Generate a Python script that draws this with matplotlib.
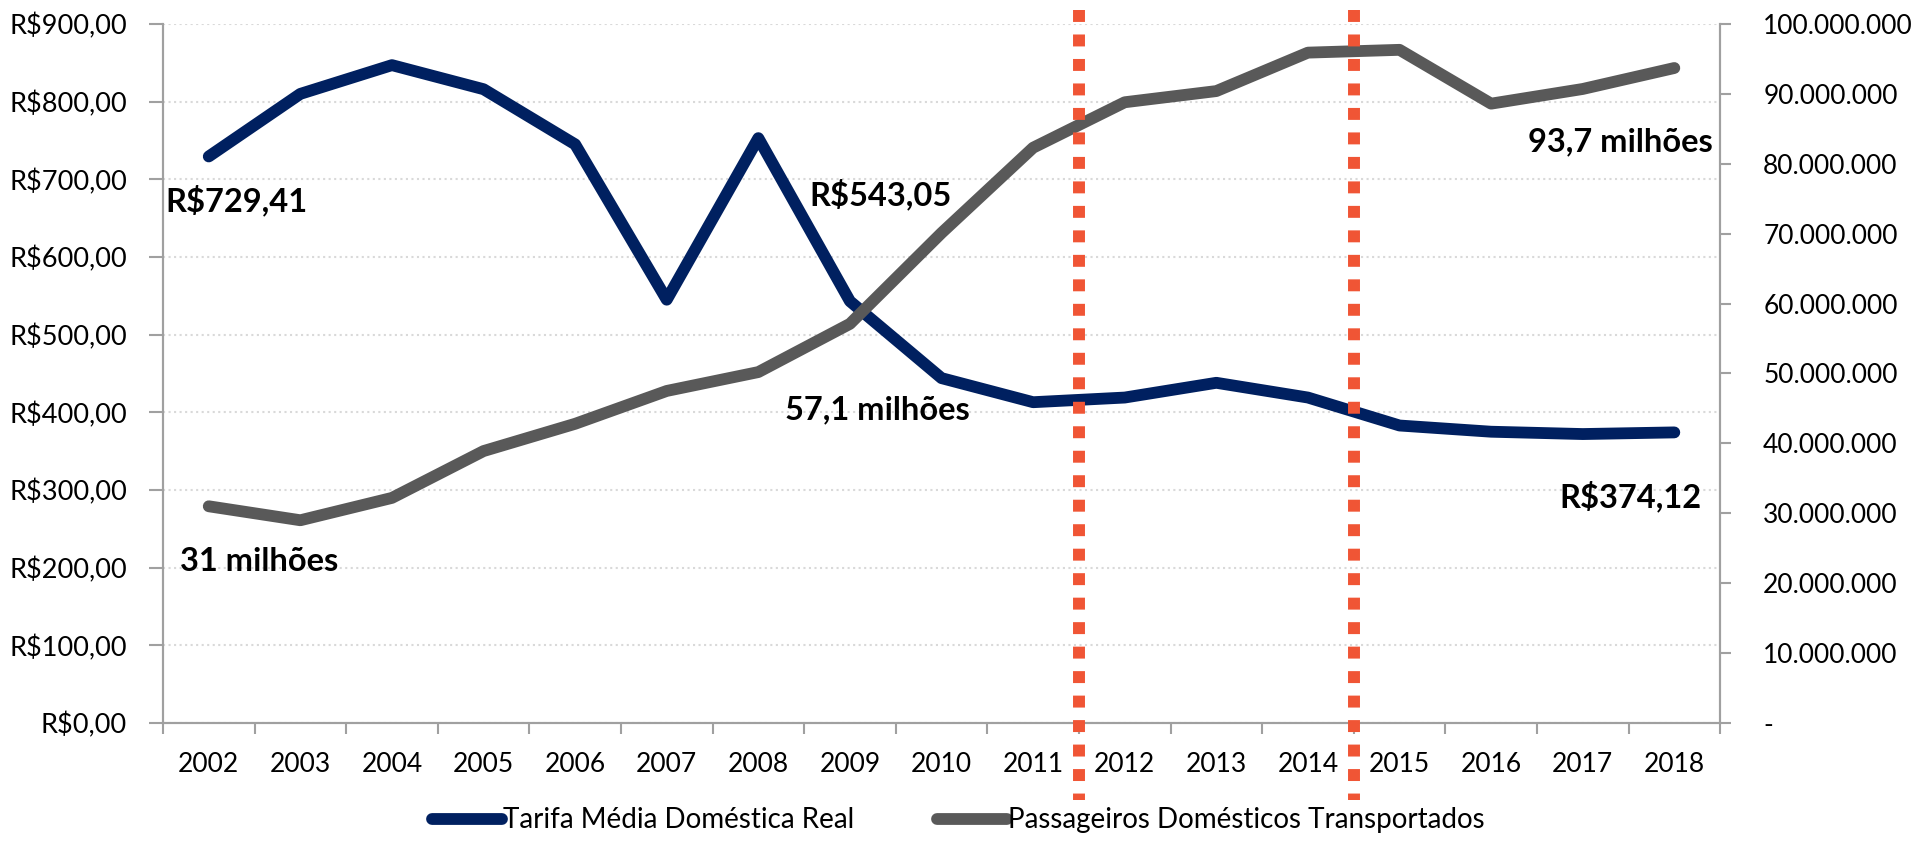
import numpy as np
import matplotlib.pyplot as plt
from matplotlib.ticker import FuncFormatter, FixedLocator

plt.rcParams['font.family'] = ['Lato', 'DejaVu Sans']

# dados
anos = ['2002', '2003', '2004', '2005', '2006', '2007', '2008', '2009', '2010',
        '2011', '2012', '2013', '2014', '2015', '2016', '2017', '2018']
tarifa = [729.41, 810, 847, 816, 745, 545, 753, 543.05, 444,
          413, 419, 438, 419, 383, 375, 372, 374.12]
passageiros = [31.0e6, 29.0e6, 32.2e6, 38.9e6, 42.8e6, 47.5e6, 50.2e6, 57.1e6, 70.1e6,
               82.3e6, 88.8e6, 90.4e6, 95.9e6, 96.3e6, 88.6e6, 90.7e6, 93.7e6]
marcos = [9.5, 12.5]  # entre 2011/2012 e 2014/2015

azul = '#002060'
cinza = '#595959'
laranja = '#F05535'
eixo = '#A0A0A0'

x = np.arange(len(anos))

fig = plt.figure(figsize=(19.17, 8.44), dpi=100)
ax = fig.add_axes([0.085, 0.1434, 0.8123, 0.8282])
ax2 = ax.twinx()

ax.plot(x, tarifa, color=azul, lw=8.5, solid_capstyle='round',
        solid_joinstyle='round', label='Tarifa Média Doméstica Real')
ax2.plot(x, passageiros, color=cinza, lw=8.5, solid_capstyle='round',
         solid_joinstyle='round', label='Passageiros Domésticos Transportados')

# linhas verticais pontilhadas
for m in marcos:
    ax2.plot([m, m], [1.02, -0.11], color=laranja, lw=8.6, dashes=[1, 1.05],
             solid_capstyle='butt', dash_capstyle='butt',
             transform=ax2.get_xaxis_transform(), clip_on=False, zorder=10)

ax.set_xlim(-0.5, len(anos) - 0.5)
ax.set_ylim(0, 900)
ax2.set_ylim(0, 100e6)

ax.set_yticks(np.arange(0, 901, 100))
ax.yaxis.set_major_formatter(FuncFormatter(lambda v, p: 'R$%d,00' % v))
ax2.set_yticks(np.arange(0, 100e6 + 1, 10e6))
ax2.yaxis.set_major_formatter(
    FuncFormatter(lambda v, p: '-' if v == 0 else '{:,.0f}'.format(v).replace(',', '.')))

ax.set_xticks(x)
ax.set_xticklabels(anos)
ax.xaxis.set_minor_locator(FixedLocator(np.arange(-0.5, len(anos), 1)))
ax.tick_params(axis='x', which='major', length=0, pad=21, labelsize=19)
ax.tick_params(axis='x', which='minor', length=8, width=1.5, color=eixo)
ax.tick_params(axis='y', length=10, width=1.5, color=eixo, pad=16, labelsize=19.5)
ax2.tick_params(axis='y', length=8, width=1.5, color=eixo, pad=23, labelsize=19)

ax.grid(axis='y', color='#D9D9D9', ls=':', lw=1.5)
ax.set_axisbelow(True)

for a in (ax, ax2):
    a.spines['top'].set_visible(False)
    for s in ('left', 'right', 'bottom'):
        a.spines[s].set_color(eixo)
        a.spines[s].set_linewidth(1.5)

# rótulos
fs = 23.5
ax.text(-0.47, 673, 'R$729,41', fontsize=fs, fontweight='bold', ha='left', va='center')
ax.text(-0.31, 208, '31 milhões', fontsize=fs, fontweight='bold', ha='left', va='center')
ax.text(6.56, 680, 'R$543,05', fontsize=fs, fontweight='bold', ha='left', va='center')
ax.text(6.29, 403, '57,1 milhões', fontsize=fs, fontweight='bold', ha='left', va='center')
ax.text(16.42, 748, '93,7 milhões', fontsize=fs, fontweight='bold', ha='right', va='center')
ax.text(16.30, 291, 'R$374,12', fontsize=fs, fontweight='bold', ha='right', va='center')

h1, l1 = ax.get_legend_handles_labels()
h2, l2 = ax2.get_legend_handles_labels()
fig.legend(h1 + h2, l1 + l2, loc='center', bbox_to_anchor=(0.5, 0.028), ncol=2,
           frameon=False, fontsize=20, handlelength=2.5, handletextpad=0.05,
           columnspacing=3.0)

plt.savefig('out.png', dpi=100)
